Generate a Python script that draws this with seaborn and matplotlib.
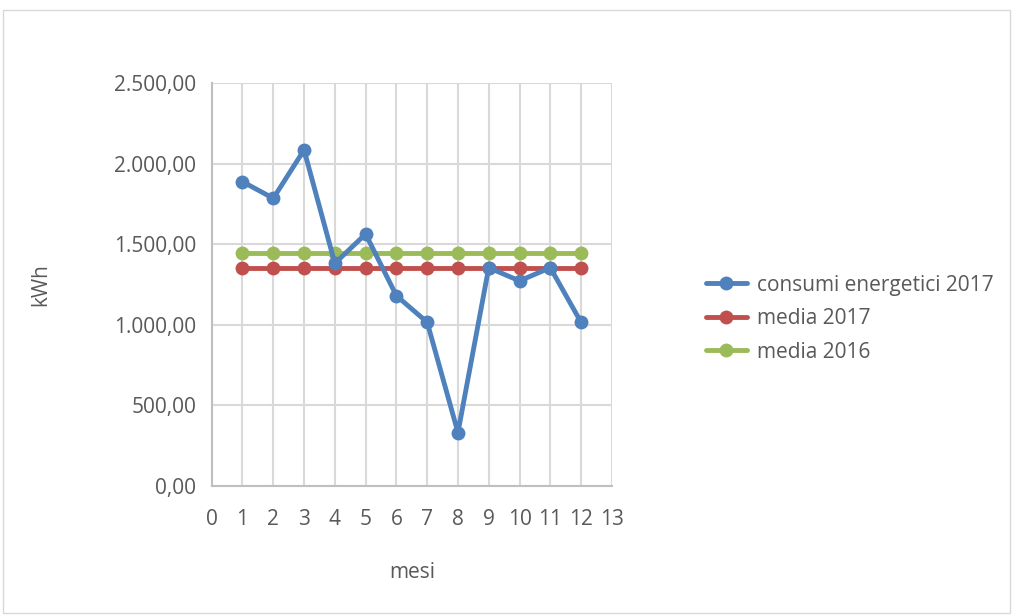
import matplotlib
matplotlib.use("Agg")
import matplotlib.pyplot as plt
import seaborn as sns
import pandas as pd
from matplotlib.ticker import FuncFormatter, MultipleLocator
from matplotlib.patches import Rectangle
from matplotlib.lines import Line2D

mesi = [1, 2, 3, 4, 5, 6, 7, 8, 9, 10, 11, 12]
consumi_2017 = [1889, 1786, 2086, 1382, 1564, 1181, 1016, 331, 1355, 1273, 1355, 1016]
media_2017 = [1352.8] * 12
media_2016 = [1445] * 12
series_names = ["consumi energetici 2017", "media 2017", "media 2016"]
colors = ["#4f81bd", "#c0504d", "#9bbb59"]

rows = []
for name, vals in zip(series_names, [consumi_2017, media_2017, media_2016]):
    for m, v in zip(mesi, vals):
        rows.append({"mesi": m, "kWh": v, "serie": name})
df = pd.DataFrame(rows)

sns.set_theme(style="white")
plt.rcParams['font.family'] = ['Open Sans', 'DejaVu Sans']
txt = "#595959"
grid = "#d9d9d9"
fs = 15

fig = plt.figure(figsize=(10.13, 6.15), dpi=100)
ax = fig.add_axes([0.209, 0.210, 0.395, 0.6545])

sns.lineplot(data=df, x="mesi", y="kWh", hue="serie", hue_order=series_names,
             palette=colors, marker="o", markersize=10, linewidth=3.5,
             markeredgewidth=0, ax=ax, legend=False)
for i, ln in enumerate(ax.get_lines()):
    ln.set_zorder(5 - i)
    ln.set_clip_on(False)

ax.set_xlim(0, 13)
ax.set_ylim(0, 2500)
ax.xaxis.set_major_locator(MultipleLocator(1))
ax.yaxis.set_major_locator(MultipleLocator(500))
ax.yaxis.set_major_formatter(FuncFormatter(
    lambda v, p: f"{v:,.2f}".replace(",", "X").replace(".", ",").replace("X", ".")))
ax.grid(True, color=grid, linewidth=1.5)
ax.set_axisbelow(True)
for s in ["top", "right"]:
    ax.spines[s].set_visible(False)
for s in ["left", "bottom"]:
    ax.spines[s].set_color("#bfbfbf")
    ax.spines[s].set_linewidth(1.5)
ax.tick_params(axis="both", length=0, labelsize=fs, colors=txt)
ax.tick_params(axis="y", pad=11)
ax.tick_params(axis="x", pad=17)
ax.set_xlabel("mesi", fontsize=fs, color=txt, labelpad=23)
ax.set_ylabel("kWh", fontsize=fs, color=txt, labelpad=45)

handles = [Line2D([], [], color=c, marker="o", markersize=10, linewidth=3.5,
                  markeredgewidth=0) for c in colors]
fig.legend(handles, series_names, loc="center left", bbox_to_anchor=(0.678, 0.482),
           frameon=False, fontsize=fs, labelcolor=txt, handlelength=2.0,
           labelspacing=0.6, handletextpad=0.45)

fig.patches.append(Rectangle((0.003, 0.003), 0.994, 0.98, transform=fig.transFigure,
                             fill=False, edgecolor=grid, linewidth=1))

fig.savefig("out.png", dpi=100)
